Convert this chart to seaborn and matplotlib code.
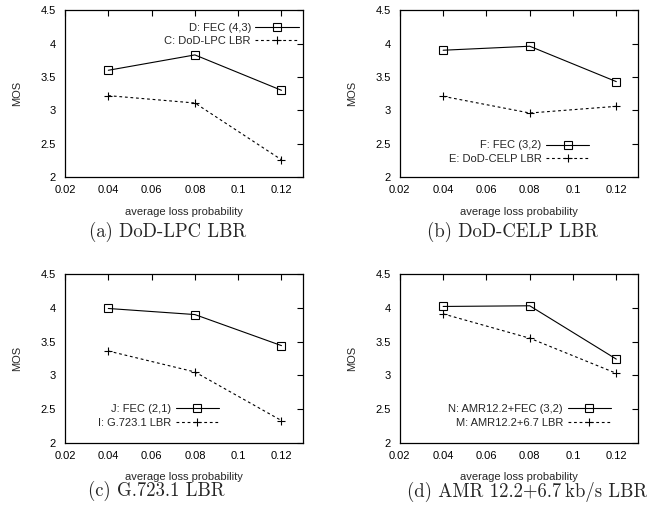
import matplotlib
matplotlib.use("Agg")
import matplotlib.pyplot as plt
import seaborn as sns
import pandas as pd

# average loss probability
loss = [0.04, 0.08, 0.12]

# (a) DoD-LPC
fec_a = [3.60, 3.83, 3.30]
lbr_a = [3.22, 3.11, 2.26]
# (b) DoD-CELP
fec_b = [3.90, 3.96, 3.43]
lbr_b = [3.21, 2.96, 3.06]
# (c) G.723.1
fec_c = [3.99, 3.90, 3.44]
lbr_c = [3.36, 3.05, 2.33]
# (d) AMR 12.2 + 6.7
fec_d = [4.02, 4.03, 3.24]
lbr_d = [3.91, 3.55, 3.03]

fec_labels = ["D: FEC (4,3)", "F: FEC (3,2)", "J: FEC (2,1)", "N: AMR12.2+FEC (3,2)"]
lbr_labels = ["C: DoD-LPC LBR", "E: DoD-CELP LBR", "I: G.723.1 LBR", "M: AMR12.2+6.7 LBR"]
captions = ["(a) DoD-LPC LBR", "(b) DoD-CELP LBR", "(c) G.723.1 LBR",
            "(d) AMR 12.2+6.7\u2009kb/s LBR"]

xticks = [0.02, 0.04, 0.06, 0.08, 0.1, 0.12]
xtick_labels = ["0.02", "0.04", "0.06", "0.08", "0.1", "0.12"]
yticks = [2, 2.5, 3, 3.5, 4, 4.5]
ytick_labels = ["2", "2.5", "3", "3.5", "4", "4.5"]

sns.set_theme(style="white")
plt.rcParams["font.family"] = ["Liberation Sans", "DejaVu Sans"]
plt.rcParams["font.size"] = 8

fig = plt.figure(figsize=(6.47, 5.21), dpi=100)

positions = [
    [0.1005, 0.660, 0.368, 0.3205],
    [0.618, 0.660, 0.368, 0.3205],
    [0.1005, 0.150, 0.368, 0.324],
    [0.618, 0.150, 0.368, 0.324],
]
legend_anchor = [
    ("upper right", (1.0, 0.95)),
    ("center right", (0.815, 0.15)),
    ("center right", (0.665, 0.16)),
    ("center right", (0.905, 0.16)),
]
caption_xy = [(168 / 647, 1 - 232 / 521), (513 / 647, 1 - 232 / 521),
              (156 / 647, 1 - 491 / 521), (527 / 647, 1 - 492 / 521)]

fec_all = [fec_a, fec_b, fec_c, fec_d]
lbr_all = [lbr_a, lbr_b, lbr_c, lbr_d]

for i in range(4):
    ax = fig.add_axes(positions[i])
    df = pd.DataFrame({"loss": loss, "fec": fec_all[i], "lbr": lbr_all[i]})
    sns.lineplot(data=df, x="loss", y="fec", ax=ax, color="black", lw=0.8,
                 marker="s", markersize=5.5, mfc="none", mec="black", mew=0.8,
                 label=fec_labels[i])
    sns.lineplot(data=df, x="loss", y="lbr", ax=ax, color="black", lw=0.8,
                 linestyle=(0, (2.5, 2.5)), marker="+", markersize=6,
                 mec="black", mew=0.8, label=lbr_labels[i])
    ax.set_xlim(0.02, 0.13)
    ax.set_ylim(2, 4.5)
    ax.set_xticks(xticks)
    ax.set_xticklabels(xtick_labels)
    ax.set_yticks(yticks)
    ax.set_yticklabels(ytick_labels)
    ax.tick_params(direction="in", length=4, width=0.8, top=True, right=True,
                   labelsize=8, colors="black")
    ax.tick_params(axis="x", pad=6)
    ax.tick_params(axis="y", pad=6.5)
    for s in ax.spines.values():
        s.set_color("black")
        s.set_linewidth(0.9)
    ax.set_xlabel("average loss probability", fontsize=8, labelpad=8)
    ax.set_ylabel("MOS", fontsize=8, labelpad=13)
    handles, labels = ax.get_legend_handles_labels()
    loc, anchor = legend_anchor[i]
    ax.legend(handles, labels, loc=loc, bbox_to_anchor=anchor, frameon=False,
              markerfirst=False, handlelength=3.9, handletextpad=0.4,
              labelspacing=0.3, fontsize=8, borderaxespad=0.2,
              borderpad=0.2)
    fig.text(caption_xy[i][0], caption_xy[i][1], captions[i], ha="center",
             va="center", fontsize=13.5, family=["cmr10", "DejaVu Serif"])

fig.savefig("out.png", dpi=100, facecolor="white")
